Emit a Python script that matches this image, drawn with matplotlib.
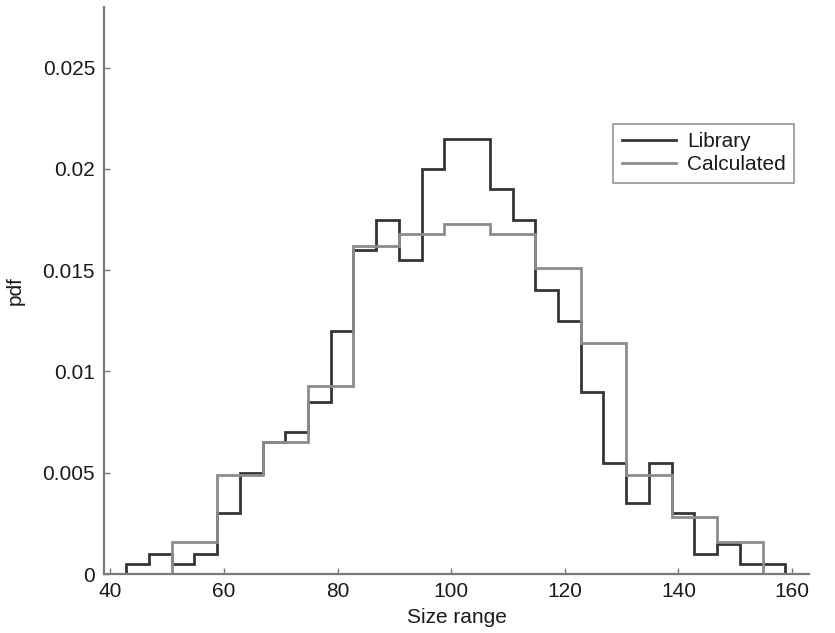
import numpy as np
import matplotlib
matplotlib.use('Agg')
import matplotlib.pyplot as plt

plt.rcParams['font.family'] = ['Liberation Sans', 'DejaVu Sans']

# Library histogram: bins of width 4 from 42.8
lib_start, lib_width = 42.8, 4.0
lib_pdf = [0.0005, 0.001, 0.0005, 0.001, 0.003, 0.005, 0.0065, 0.007,
           0.0085, 0.012, 0.016, 0.0175, 0.0155, 0.020, 0.0215, 0.0215,
           0.019, 0.0175, 0.014, 0.0125, 0.009, 0.0055, 0.0035, 0.0055,
           0.003, 0.001, 0.0015, 0.0005, 0.0005]

# Calculated histogram: bins of width 8 from 42.8
calc_start, calc_width = 42.8, 8.0
calc_pdf = [0.0, 0.0016, 0.0049, 0.0065, 0.0093, 0.0162, 0.0168, 0.0173,
            0.0168, 0.0151, 0.0114, 0.0049, 0.0028, 0.0016, 0.0]

xticks = [40, 60, 80, 100, 120, 140, 160]
yticks = [0, 0.005, 0.01, 0.015, 0.02, 0.025]
ytick_labels = ['0', '0.005', '0.01', '0.015', '0.02', '0.025']

lib_edges = lib_start + lib_width * np.arange(len(lib_pdf) + 1)
calc_edges = calc_start + calc_width * np.arange(len(calc_pdf) + 1)

fig = plt.figure(figsize=(8.35, 6.33), dpi=100)
ax = fig.add_axes([0.1246, 0.0932, 0.8444, 0.8958])

ax.stairs(lib_pdf, lib_edges, color='#353535', linewidth=2.0, label='Library')
ax.stairs(calc_pdf, calc_edges, color='#8c8c8c', linewidth=2.0, label='Calculated')

ax.set_xlim(38.9, 163)
ax.set_ylim(0, 0.028)
ax.set_xticks(xticks)
ax.set_yticks(yticks)
ax.set_yticklabels(ytick_labels)

for side in ['top', 'right']:
    ax.spines[side].set_visible(False)
for side in ['left', 'bottom']:
    ax.spines[side].set_color('#7a7a7a')
    ax.spines[side].set_linewidth(1.6)

ax.tick_params(direction='in', length=4, width=1, color='#7a7a7a',
               labelsize=15, labelcolor='#1a1a1a')
ax.tick_params(axis='y', pad=6.5)
ax.tick_params(axis='x', pad=6)

ax.set_xlabel('Size range', fontsize=15, color='#1a1a1a', labelpad=5)
ax.set_ylabel('pdf', fontsize=15, color='#1a1a1a', labelpad=13)

leg = ax.legend(loc='upper right', bbox_to_anchor=(0.979, 0.794),
                fontsize=15, frameon=True, fancybox=False,
                handlelength=2.6, handletextpad=0.55, borderpad=0.4,
                labelspacing=0.2, borderaxespad=0)
leg.get_frame().set_edgecolor('#7a7a7a')
leg.get_frame().set_linewidth(1.2)
for t in leg.get_texts():
    t.set_color('#1a1a1a')

fig.savefig('out.png', dpi=100)
